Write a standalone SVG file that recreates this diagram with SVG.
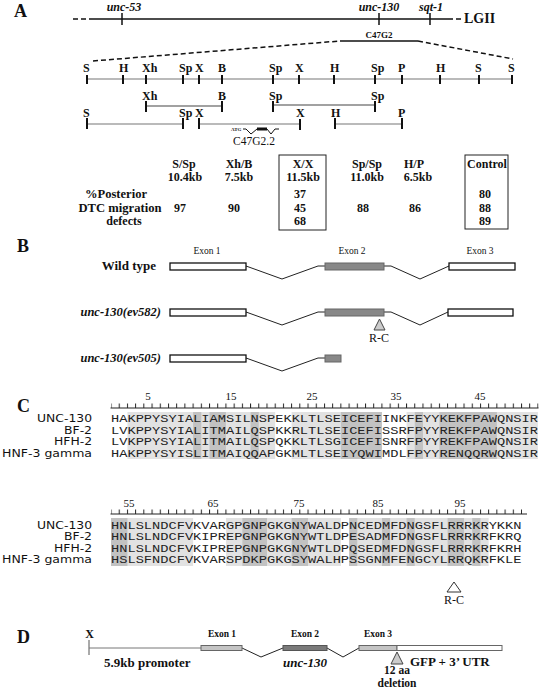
<svg xmlns="http://www.w3.org/2000/svg" width="543" height="690" viewBox="0 0 543 690">
<style>
text{font-family:"Liberation Serif","Times New Roman",serif;fill:#111}
.pl{font-size:18px;font-weight:bold}
.bi{font-weight:bold;font-style:italic;font-size:12px}
.rs{font-weight:bold;font-size:12px}
.tb{font-weight:bold;font-size:12px;text-anchor:middle}
.ex{font-size:9.5px;text-anchor:middle}
.exd{font-size:9.5px;font-weight:bold;text-anchor:middle}
.nm{font-family:"DejaVu Sans",sans-serif;font-size:10px;text-anchor:end}
.sq{font-family:"Liberation Mono","Courier New",monospace;font-size:10px;fill:#222}
.rl{font-size:11px;text-anchor:middle}
.tk{stroke:#111;stroke-width:2}
.ln{stroke:#777;stroke-width:1.2;fill:none}
.br{stroke:#444;stroke-width:1.2;fill:none}
.ds{stroke:#111;stroke-width:1.5;stroke-dasharray:5 3;fill:none}
.box{fill:none;stroke:#222;stroke-width:1}
.ewhite{fill:#fff;stroke:#111;stroke-width:1.3}
.egray{fill:#888;stroke:#666;stroke-width:1}
.intr{stroke:#222;stroke-width:1;fill:none}
.tri{fill:#ccc;stroke:#444;stroke-width:1}
.lt{fill:#e2e2e2}
.md{fill:#c2c2c2}
.wh{fill:#fff}
</style>
<defs>
<pattern id="ruler" patternUnits="userSpaceOnUse" x="110.5" y="0" width="8.21" height="690">
<rect x="0" y="0" width="1" height="690" fill="#222"/>
</pattern>
</defs>

<!-- Panel A -->
<g id="panelA">
<text class="pl" x="14" y="17">A</text>
<g id="lgii">
<line x1="73" y1="19" x2="92" y2="19" class="ds"/>
<line x1="92" y1="19" x2="448" y2="19" stroke="#111" stroke-width="1.5"/>
<line x1="448" y1="19" x2="463" y2="19" class="ds"/>
<text x="464" y="23" style="font-weight:bold;font-size:14px">LGII</text>
<line x1="122" y1="13" x2="122" y2="25" stroke="#111" stroke-width="1.5"/>
<line x1="379" y1="13" x2="379" y2="25" stroke="#111" stroke-width="1.5"/>
<line x1="430" y1="13" x2="430" y2="25" stroke="#111" stroke-width="1.5"/>
<text class="bi" x="124" y="11" text-anchor="middle">unc-53</text>
<text class="bi" x="379" y="11" text-anchor="middle">unc-130</text>
<text class="bi" x="431" y="11" text-anchor="middle">sqt-1</text>
</g>
<g id="c47g2">
<text x="379" y="38" text-anchor="middle" style="font-weight:bold;font-size:9px">C47G2</text>
<line x1="340" y1="41" x2="418" y2="41" stroke="#111" stroke-width="1.5"/>
<line x1="93" y1="61" x2="340" y2="41" class="ds"/>
<line x1="418" y1="41" x2="513" y2="59" class="ds"/>
</g>
<g id="map">
<line x1="87" y1="79" x2="512" y2="79" class="ln"/>
<path class="tk" d="M87 75V84M123 75V84M146 75V84M183 75V84M199 75V84M222 75V84M273 75V84M299 75V84M334 75V84M375 75V84M402 75V84M440 75V84M479 75V84M512 75V84"/>
<g class="rs">
<text x="83" y="72">S</text><text x="119" y="72">H</text><text x="142" y="72">Xh</text><text x="179" y="72">Sp</text><text x="195" y="72">X</text><text x="218" y="72">B</text><text x="269" y="72">Sp</text><text x="295" y="72">X</text><text x="330" y="72">H</text><text x="371" y="72">Sp</text><text x="398" y="72">P</text><text x="436" y="72">H</text><text x="475" y="72">S</text><text x="508" y="72">S</text>
</g>
</g>
<g id="fragments">
<path class="br" d="M146 106H222M273 105H375"/>
<path class="tk" d="M146 101V112M222 101V112M273 101V112M375 101V112"/>
<g class="rs"><text x="142" y="100">Xh</text><text x="218" y="100">B</text><text x="269" y="100">Sp</text><text x="371" y="100">Sp</text></g>
<path class="ln" d="M87 124H183M199 124H300M335 124H402"/>
<path class="tk" d="M87 118V129M183 118V129M199 118V129M300 119V130M335 118V129M402 118V129"/>
<g class="rs"><text x="83" y="117">S</text><text x="179" y="117">Sp</text><text x="195" y="117">X</text><text x="296" y="117">X</text><text x="331" y="117">H</text><text x="398" y="117">P</text></g>
</g>
<g id="gene">
<text x="231" y="131" style="font-size:5px;font-weight:bold">ATG</text>
<path d="M243 129H246L251 134L257 129H267L271 134L275 129H279" stroke="#111" stroke-width="1" fill="none"/>
<rect x="257" y="127.5" width="10" height="3" fill="#111"/>
<text x="254" y="145" text-anchor="middle" style="font-size:11.5px">C47G2.2</text>
</g>
<g id="table">
<text class="tb" x="184" y="167.5">S/Sp</text><text class="tb" x="185" y="181">10.4kb</text>
<text class="tb" x="239" y="167.5">Xh/B</text><text class="tb" x="239" y="181">7.5kb</text>
<text class="tb" x="303" y="167.5">X/X</text><text class="tb" x="303" y="181">11.5kb</text>
<text class="tb" x="367" y="167.5">Sp/Sp</text><text class="tb" x="367" y="181">11.0kb</text>
<text class="tb" x="414" y="167.5">H/P</text><text class="tb" x="418" y="181">6.5kb</text>
<text class="tb" x="487" y="167.5">Control</text>
<text class="tb" x="116" y="198" textLength="62" lengthAdjust="spacingAndGlyphs">%Posterior</text>
<text class="tb" x="120" y="211.5" textLength="83" lengthAdjust="spacingAndGlyphs">DTC migration</text>
<text class="tb" x="124" y="225">defects</text>
<text class="tb" x="180" y="211.5">97</text>
<text class="tb" x="234" y="211.5">90</text>
<text class="tb" x="300" y="198">37</text><text class="tb" x="300" y="211.5">45</text><text class="tb" x="300" y="225">68</text>
<text class="tb" x="363" y="211.5">88</text>
<text class="tb" x="415" y="211.5">86</text>
<text class="tb" x="485" y="198">80</text><text class="tb" x="485" y="211.5">88</text><text class="tb" x="485" y="225">89</text>
<rect class="box" x="279" y="155" width="47" height="75"/>
<rect class="box" x="465" y="155" width="43" height="74"/>
</g>
</g>

<!-- Panel B -->
<g id="panelB">
<text class="pl" x="17" y="252">B</text>
<text class="ex" x="207" y="254">Exon 1</text>
<text class="ex" x="352" y="254">Exon 2</text>
<text class="ex" x="480" y="254">Exon 3</text>
<g id="wt">
<text x="156" y="270" text-anchor="end" style="font-weight:bold;font-size:13px">Wild type</text>
<path class="intr" d="M246 266L282 279L318 266H325M384 266H391L420 279L449 266"/>
<rect class="ewhite" x="170" y="263" width="76" height="7"/>
<rect class="egray" x="325" y="263" width="59" height="7"/>
<rect class="ewhite" x="449" y="263" width="66" height="7"/>
</g>
<g id="ev582">
<text class="bi" x="161" y="316" text-anchor="end" style="font-size:12.5px">unc-130(ev582)</text>
<path class="intr" d="M246 312L282 325L318 312H325M384 312H391L420 325L448 312"/>
<rect class="ewhite" x="170" y="309" width="76" height="7"/>
<rect class="egray" x="325" y="309" width="59" height="7"/>
<rect class="ewhite" x="448" y="309" width="65" height="7"/>
<polygon class="tri" points="379.5,319 374,330 385,330"/>
<text x="379" y="342" text-anchor="middle" style="font-size:12px">R-C</text>
</g>
<g id="ev505">
<text class="bi" x="161" y="362" text-anchor="end" style="font-size:12.5px">unc-130(ev505)</text>
<path class="intr" d="M246 358L282 371L318 358H325"/>
<rect class="ewhite" x="170" y="355" width="76" height="7"/>
<rect class="egray" x="325" y="355" width="16" height="7"/>
</g>
</g>

<!-- Panel C -->
<g id="panelC">
<text class="pl" x="17" y="412">C</text>
<g id="block1">
<rect class="lt" x="127.42" y="412" width="410.5" height="47"/>
<rect class="wh" x="275.2" y="412" width="16.42" height="47"/>
<rect class="wh" x="381.93" y="412" width="24.63" height="47"/>
<rect class="md" x="193.1" y="412" width="8.21" height="47"/>
<rect class="md" x="209.52" y="412" width="16.42" height="47"/>
<rect class="md" x="250.57" y="412" width="8.21" height="47"/>
<rect class="md" x="340.88" y="412" width="41.05" height="47"/>
<rect class="md" x="414.77" y="412" width="8.21" height="47"/>
<rect class="md" x="439.4" y="412" width="57.47" height="47"/>
<rect x="111" y="403.5" width="427.5" height="4.5" fill="url(#ruler)"/>
<line x1="110.5" y1="408" x2="538.5" y2="408" stroke="#222" stroke-width="1.2"/>
<text class="rl" x="148" y="400">5</text><text class="rl" x="231" y="400">15</text><text class="rl" x="312" y="400">25</text><text class="rl" x="396" y="400">35</text><text class="rl" x="480" y="400">45</text>
<text class="nm" x="92" y="422" textLength="55" lengthAdjust="spacingAndGlyphs">UNC-130</text>
<text class="nm" x="92" y="433.5" textLength="28" lengthAdjust="spacingAndGlyphs">BF-2</text>
<text class="nm" x="92" y="445" textLength="38" lengthAdjust="spacingAndGlyphs">HFH-2</text>
<text class="nm" x="92" y="456.5" textLength="90" lengthAdjust="spacingAndGlyphs">HNF-3 gamma</text>
<text class="sq" x="111" y="422" textLength="427" lengthAdjust="spacingAndGlyphs">HAKPPYSYIALIAMSILNSPEKKLTLSEICEFIINKFEYYKEKFPAWQNSIR</text>
<text class="sq" x="111" y="433.5" textLength="427" lengthAdjust="spacingAndGlyphs">LVKPPYSYIALITMAILQSPKKRLTLSEICEFISSRFPYYREKFPAWQNSIR</text>
<text class="sq" x="111" y="445" textLength="427" lengthAdjust="spacingAndGlyphs">LVKPPYSYIALITMAILQSPQKKLTLSGICEFISNRFPYYREKFPAWQNSIR</text>
<text class="sq" x="111" y="456.5" textLength="427" lengthAdjust="spacingAndGlyphs">HAKPPYSYISLITMAIQQAPGKMLTLSEIYQWIMDLFPYYRENQQRWQNSIR</text>
</g>
<g id="block2">
<rect class="lt" x="111" y="518" width="377.66" height="48"/>
<rect class="wh" x="193.1" y="518" width="32.84" height="48"/>
<rect class="wh" x="340.88" y="518" width="8.21" height="48"/>
<rect class="md" x="111" y="518" width="16.42" height="48"/>
<rect class="md" x="242.36" y="518" width="24.63" height="48"/>
<rect class="md" x="291.62" y="518" width="16.42" height="48"/>
<rect class="md" x="349.09" y="518" width="8.21" height="48"/>
<rect class="md" x="381.93" y="518" width="8.21" height="48"/>
<rect class="md" x="406.56" y="518" width="8.21" height="48"/>
<rect class="md" x="447.61" y="518" width="16.42" height="48"/>
<rect class="md" x="472.24" y="518" width="8.21" height="48"/>
<rect x="111" y="509.5" width="411" height="4.5" fill="url(#ruler)"/>
<line x1="110.5" y1="514" x2="527" y2="514" stroke="#222" stroke-width="1.2"/>
<text class="rl" x="129" y="507">55</text><text class="rl" x="213" y="507">65</text><text class="rl" x="299" y="507">75</text><text class="rl" x="378" y="507">85</text><text class="rl" x="460" y="507">95</text>
<text class="nm" x="92" y="528.5" textLength="55" lengthAdjust="spacingAndGlyphs">UNC-130</text>
<text class="nm" x="92" y="540" textLength="28" lengthAdjust="spacingAndGlyphs">BF-2</text>
<text class="nm" x="92" y="551.5" textLength="38" lengthAdjust="spacingAndGlyphs">HFH-2</text>
<text class="nm" x="92" y="563" textLength="90" lengthAdjust="spacingAndGlyphs">HNF-3 gamma</text>
<text class="sq" x="111" y="528.5" textLength="410.5" lengthAdjust="spacingAndGlyphs">HNLSLNDCFVKVARGPGNPGKGNYWALDPNCEDMFDNGSFLRRRKRYKKN</text>
<text class="sq" x="111" y="540" textLength="410.5" lengthAdjust="spacingAndGlyphs">HNLSLNDCFVKIPREPGNPGKGNYWTLDPESADMFDNGSFLRRRKRFKRQ</text>
<text class="sq" x="111" y="551.5" textLength="410.5" lengthAdjust="spacingAndGlyphs">HNLSLNDCFVKIPREPGNPGKGNYWTLDPQSEDMFDNGSFLRRRKRFKRH</text>
<text class="sq" x="111" y="563" textLength="410.5" lengthAdjust="spacingAndGlyphs">HSLSFNDCFVKVARSPDKPGKGSYWALHPSSGNMFENGCYLRRQKRFKLE</text>
<polygon points="454,582 447,592 461,592" fill="#fff" stroke="#333" stroke-width="1"/>
<text x="454" y="604" text-anchor="middle" style="font-size:12px">R-C</text>
</g>
</g>

<!-- Panel D -->
<g id="panelD">
<text class="pl" x="17" y="643">D</text>
<text x="89.5" y="638" text-anchor="middle" style="font-weight:bold;font-size:12px">X</text>
<line x1="89" y1="640" x2="89" y2="655" stroke="#555" stroke-width="1"/>
<line x1="89" y1="648" x2="201" y2="648" stroke="#777" stroke-width="1"/>
<path class="intr" d="M242 648L261 657L283 648M327 648L343 657L359 648" stroke="#555"/>
<rect x="201" y="645.5" width="41" height="5" fill="#c4c4c4" stroke="#666" stroke-width="1"/>
<rect x="283" y="645.5" width="44" height="5" fill="#7a7a7a" stroke="#555" stroke-width="1"/>
<rect x="359" y="645.5" width="38" height="5" fill="#c4c4c4" stroke="#666" stroke-width="1"/>
<rect x="397" y="645.5" width="105" height="5" fill="#fff" stroke="#666" stroke-width="1"/>
<text class="exd" x="222" y="637">Exon 1</text>
<text class="exd" x="305" y="637">Exon 2</text>
<text class="exd" x="378" y="637">Exon 3</text>
<text x="104" y="667" style="font-weight:bold;font-size:13px">5.9kb promoter</text>
<text x="305" y="667" text-anchor="middle" style="font-style:italic;font-weight:bold;font-size:13px">unc-130</text>
<polygon class="tri" points="397,652 391,664 403,664"/>
<text x="410" y="666" style="font-weight:bold;font-size:13px">GFP + 3’ UTR</text>
<text x="397" y="674" text-anchor="middle" style="font-weight:bold;font-size:11.5px">12 aa</text>
<text x="397" y="687" text-anchor="middle" style="font-weight:bold;font-size:11.5px">deletion</text>
</g>
</svg>
